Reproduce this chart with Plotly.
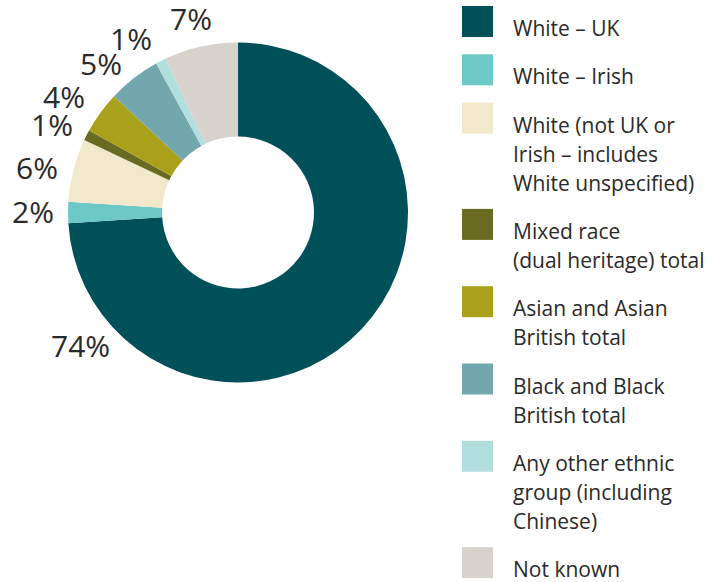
import math
import plotly.graph_objects as go

# Ethnic groups, their share (%) and the wrapped legend text
legend_lines = [
    ["White – UK"],
    ["White – Irish"],
    ["White (not UK or", "Irish – includes", "White unspecified)"],
    ["Mixed race", "(dual heritage) total"],
    ["Asian and Asian", "British total"],
    ["Black and Black", "British total"],
    ["Any other ethnic", "group (including", "Chinese)"],
    ["Not known"],
]
groups = [" ".join(lines) for lines in legend_lines]
shares = [74, 2, 6, 1, 4, 5, 1, 7]
colors = ["#00505a", "#6cc9c6", "#f2e8cb", "#6b6a22", "#a9a11a",
          "#72a7ad", "#b3dede", "#d7d2cc"]

W, H = 726, 582
TEXT = "#2a2a2a"
FONT = "Open Sans"

# donut geometry (pixels)
cx, cy, r_out = 238, 212.5, 170
hole = 0.447

fig = go.Figure(go.Pie(
    values=shares,
    labels=groups,
    hole=hole,
    sort=False,
    direction="clockwise",
    rotation=0,
    marker=dict(colors=colors, line=dict(width=0)),
    textinfo="none",
    hoverinfo="label+percent",
    showlegend=False,
    domain=dict(x=[(cx - r_out) / W, (cx + r_out) / W],
                y=[1 - (cy + r_out) / H, 1 - (cy - r_out) / H]),
))

annotations = []
shapes = []

# percentage labels around the ring: slice mid-angle, fanned slightly so
# the small neighbouring slices' labels do not collide
total = sum(shares)
angle_shift = [0, 0, -2.2, -2.1, -2.6, -5.0, -4.8, -1.2]   # degrees
label_radius = [207, 205, 206, 205, 208, 201, 203, 198]   # pixels
cum = 0
for i, v in enumerate(shares):
    if i == 0:
        # the dominant slice gets its label in its lower-left part
        deg = 360 * 0.6375
    else:
        deg = 360 * (cum + v / 2) / total + angle_shift[i]
    ang = math.radians(deg)
    px = cx + label_radius[i] * math.sin(ang)
    py = cy - label_radius[i] * math.cos(ang) - 1.5
    annotations.append(dict(
        x=px / W, y=1 - py / H, xref="paper", yref="paper",
        text=f"{v}%", showarrow=False, xanchor="center", yanchor="middle",
        font=dict(family=FONT, size=30, color=TEXT),
    ))
    cum += v

# legend: swatches with wrapped labels
sq_x0, sq_size, text_x = 462, 31, 511
item_gap, line_gap = 48.3, 29
extra = 0
for k, (lines, col) in enumerate(zip(legend_lines, colors)):
    top = 6 + item_gap * k + line_gap * extra
    shapes.append(dict(
        type="rect", xref="paper", yref="paper",
        x0=sq_x0 / W, x1=(sq_x0 + sq_size) / W,
        y0=1 - (top + sq_size) / H, y1=1 - top / H,
        fillcolor=col, line=dict(width=0),
    ))
    for j, line in enumerate(lines):
        yc = top + 22 + line_gap * j
        annotations.append(dict(
            x=text_x / W, y=1 - yc / H, xref="paper", yref="paper",
            text=line, showarrow=False, xanchor="left", yanchor="middle",
            font=dict(family=FONT, size=21, color=TEXT),
        ))
    extra += len(lines) - 1

fig.update_layout(
    width=W, height=H,
    margin=dict(l=0, r=0, t=0, b=0),
    paper_bgcolor="white",
    plot_bgcolor="white",
    annotations=annotations,
    shapes=shapes,
)

fig.write_html("out.html")
